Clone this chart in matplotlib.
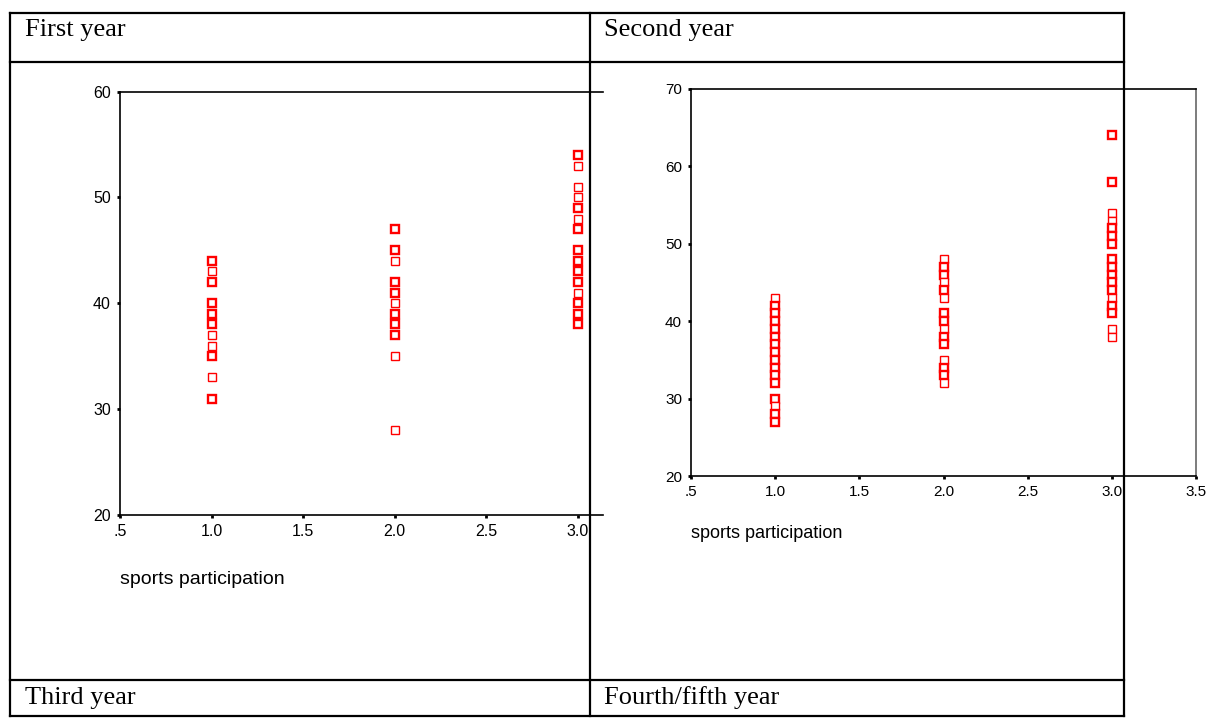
import matplotlib
matplotlib.use("Agg")
import matplotlib.pyplot as plt
from matplotlib.lines import Line2D

W, H = 1206, 724

# first year: values per sports participation group, count 2 = overlapping (bold) point
y1_g1 = [44, 43, 42, 40, 39, 38, 37, 36, 35, 33, 31]
n1_g1 = [2, 1, 2, 2, 2, 2, 1, 1, 2, 1, 2]
y1_g2 = [47, 45, 44, 42, 41, 40, 39, 38, 37, 35, 28]
n1_g2 = [2, 2, 1, 2, 2, 1, 2, 3, 2, 1, 1]
y1_g3 = [54, 53, 51, 50, 49, 48, 47, 45, 44, 43, 42, 41, 40, 39, 38]
n1_g3 = [2, 1, 1, 1, 2, 1, 2, 2, 2, 2, 2, 1, 2, 2, 2]

# second year
y2_g1 = [43, 42, 41, 40, 39, 38, 37, 36, 35, 34, 33, 32, 30, 29, 28, 27]
n2_g1 = [1, 2, 2, 2, 2, 2, 2, 2, 2, 2, 2, 2, 2, 1, 2, 2]
y2_g2 = [48, 47, 46, 45, 44, 43, 41, 40, 39, 38, 37, 35, 34, 33, 32]
n2_g2 = [1, 2, 2, 1, 2, 1, 2, 2, 1, 2, 2, 1, 2, 2, 1]
y2_g3 = [64, 58, 54, 53, 52, 51, 50, 48, 47, 46, 45, 44, 43, 42, 41, 39, 38]
n2_g3 = [2, 2, 1, 1, 2, 2, 2, 2, 2, 2, 2, 2, 1, 2, 2, 1, 1]

groups = [1.0, 2.0, 3.0]
x_ticks = [0.5, 1.0, 1.5, 2.0, 2.5, 3.0, 3.5]
x_labels = ['.5', '1.0', '1.5', '2.0', '2.5', '3.0', '3.5']

cell_titles = ['First year', 'Second year', 'Third year', 'Fourth/fifth year']

fig = plt.figure(figsize=(W / 100, H / 100), dpi=100)


def fx(px):
    return px / W


def fy(py):
    return 1 - py / H


def add_axes(x0, x1, y0, y1):
    # x0,x1 left/right px, y0 top px, y1 bottom px
    return fig.add_axes([fx(x0), fy(y1), fx(x1) - fx(x0), fy(y0) - fy(y1)])


def scatter_groups(ax, series, counts):
    for x, ys, ns in zip(groups, series, counts):
        for y, n in zip(ys, ns):
            ax.plot([x], [y], marker='s', ms=5.3, mfc='white', mec='#ff0000',
                    mew=1.0 if n == 1 else 1.7, ls='none', clip_on=False)


def style(ax, xt, xl, yticks, fs):
    ax.set_xticks(xt)
    ax.set_xticklabels(xl)
    ax.set_yticks(yticks)
    ax.set_yticklabels([str(t) for t in yticks])
    ax.tick_params(direction='out', length=2.5, width=2, pad=4,
                   labelsize=fs, colors='black')
    for lab in ax.get_xticklabels() + ax.get_yticklabels():
        lab.set_fontfamily('Liberation Sans')
    for s in ax.spines.values():
        s.set_linewidth(1.2)


# left chart (first year), cut off by the table cell on the right
ax1 = add_axes(120, 603, 91.5, 515)
scatter_groups(ax1, [y1_g1, y1_g2, y1_g3], [n1_g1, n1_g2, n1_g3])
style(ax1, x_ticks[:6], x_labels[:6], [20, 30, 40, 50, 60], 11.5)
ax1.set_xlim(0.5, 0.5 + (603 - 120) / 183.2)
ax1.set_ylim(20, 60)
ax1.spines['right'].set_visible(False)
fig.text(fx(120), fy(579), 'sports participation', fontsize=14,
         family='Liberation Sans', ha='left', va='center')

# right chart (second year)
ax2 = add_axes(691, 1196, 89, 476)
scatter_groups(ax2, [y2_g1, y2_g2, y2_g3], [n2_g1, n2_g2, n2_g3])
style(ax2, x_ticks, x_labels, [20, 30, 40, 50, 60, 70], 11)
ax2.set_xlim(0.5, 3.5)
ax2.set_ylim(20, 70)
ax2.spines['right'].set_color('#666666')
fig.text(fx(691), fy(533), 'sports participation', fontsize=13,
         family='Liberation Sans', ha='left', va='center')

# table grid
lw = 1.6
table_lines = [
    ((10, 1124), (13, 13)),
    ((10, 1124), (62, 62)),
    ((10, 1124), (680, 680)),
    ((10, 1124), (716, 716)),
    ((10, 10), (13, 716)),
    ((590, 590), (13, 716)),
    ((1124, 1124), (13, 716)),
]
for xs, ys in table_lines:
    fig.add_artist(Line2D([fx(x) for x in xs], [fy(y) for y in ys],
                          transform=fig.transFigure, color='black', lw=lw))

title_pos = [(25, 30), (604, 30), (25, 698), (604, 698)]
for (tx, ty), t in zip(title_pos, cell_titles):
    fig.text(fx(tx), fy(ty), t, fontsize=19, family='Liberation Serif',
             ha='left', va='center')

fig.savefig('out.png', dpi=100)
